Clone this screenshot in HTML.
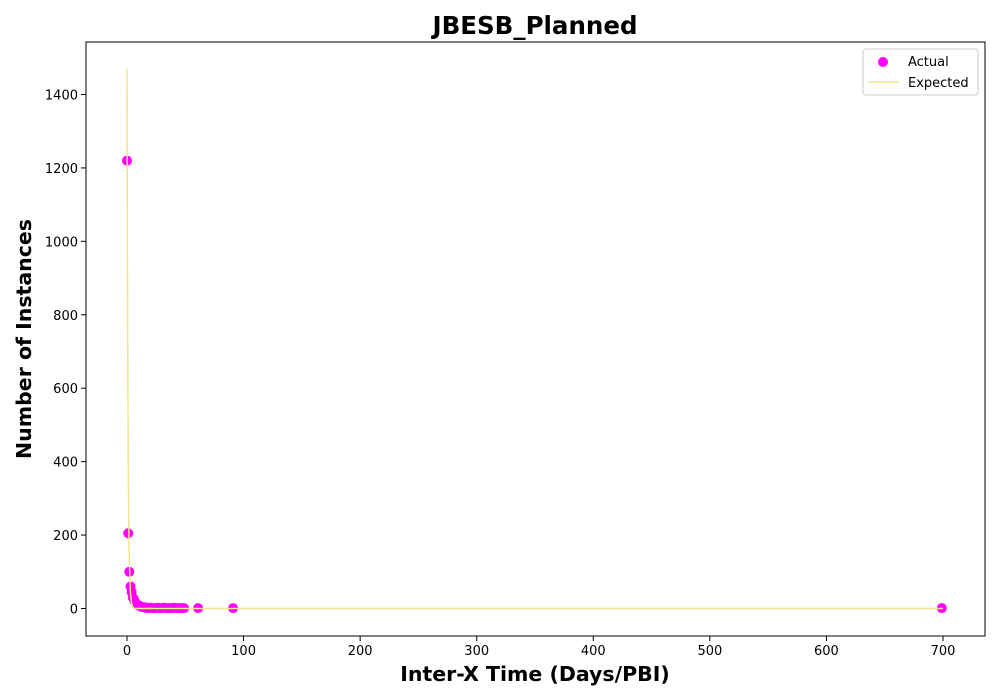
<!DOCTYPE html>
<html><head><meta charset="utf-8"><style>body{margin:0;background:#fff}svg{display:block}text{font-family:"DejaVu Sans","Liberation Sans",sans-serif}</style></head>
<body>
<svg id="chart" width="1000" height="700">
<rect width="1000" height="700" fill="#fff"/>
<text x="535" y="34" text-anchor="middle" font-size="24.5" font-weight="bold">JBESB_Planned</text>
<text x="535" y="681" text-anchor="middle" font-size="20.5" font-weight="bold">Inter-X Time (Days/PBI)</text>
<text transform="translate(31,339) rotate(-90)" text-anchor="middle" font-size="20.5" font-weight="bold">Number of Instances</text>
<g id="ticks"></g>
<g id="marks"></g>
<rect x="86" y="42" width="899" height="594" fill="none" stroke="#000" stroke-width="1"/>
<g>
<rect x="863" y="49" width="115" height="46" fill="#fff" stroke="#ccc" rx="3"/>
<circle cx="883" cy="62" r="5" fill="#ff00ff"/>
<text x="908" y="66" font-size="13">Actual</text>
<line x1="868" y1="82" x2="898" y2="82" stroke="#f0e68c" stroke-width="1.5"/>
<text x="908" y="87" font-size="13">Expected</text>
</g>
</svg>
<script>
const actualX = [0,1,2,3,4,5,6,7,8,9,10,11,12,13,14,15,16,17,18,19,20,22,24,26,28,30,32,34,36,38,40,42,44,46,48,49,61,91,699];
const actualY = [1220,205,100,60,45,30,25,18,12,10,8,7,5,4,4,3,2,2,2,1,2,1,1,2,1,1,2,1,1,1,2,1,1,1,1,1,1,1,1];
const expectedX = [0,0.25,0.5,1,1.5,2,3,4,5,6,7,10,20,700];
const expectedY = [1470,1080,800,440,240,130,40,12,4,1.2,0.4,0,0,0];
const xTicks = [0,100,200,300,400,500,600,700];
const yTicks = [0,200,400,600,800,1000,1200,1400];
const NS="http://www.w3.org/2000/svg";
const sx=v=>127+v*(943-127)/700;
const sy=v=>608.5-v*(608.5-94.5)/1400;
const tg=document.getElementById('ticks'), mg=document.getElementById('marks');
function mk(t,a,p){const e=document.createElementNS(NS,t);for(const k in a)e.setAttribute(k,a[k]);p.appendChild(e);return e;}
xTicks.forEach(v=>{
 const l=mk('line',{x1:sx(v),x2:sx(v),y1:636,y2:641,stroke:'#000'},tg);
 
 
 const t=mk('text',{x:sx(v),y:655,'text-anchor':'middle','font-size':13},tg);t.textContent=v;
 
 
});
yTicks.forEach(v=>{
 const l=mk('line',{x1:81,x2:86,y1:sy(v),y2:sy(v),stroke:'#000'},tg);
 
 
 const t=mk('text',{x:78,y:sy(v)+5,'text-anchor':'end','font-size':13},tg);t.textContent=v;
 
 
});
actualX.forEach((x,i)=>{
 const c=mk('circle',{cx:sx(x),cy:sy(actualY[i]),r:5,fill:'#ff00ff'},mg);
 
 
});
const p=mk('polyline',{points:expectedX.map((x,i)=>sx(x)+','+sy(expectedY[i])).join(' '),fill:'none',stroke:'#f0e68c','stroke-width':1.5},mg);


</script>
</body></html>
